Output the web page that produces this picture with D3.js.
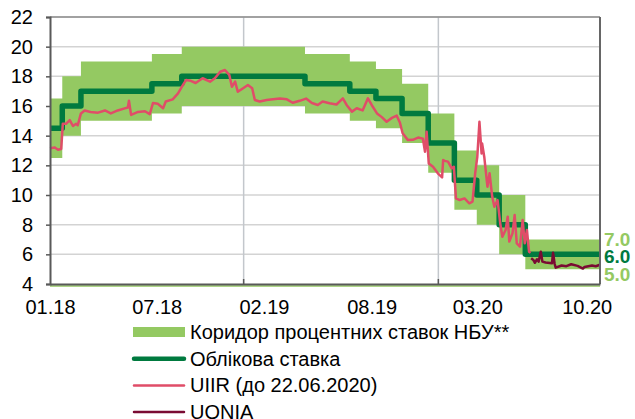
<!DOCTYPE html>
<html>
<head>
<meta charset="utf-8">
<script src="https://cdn.jsdelivr.net/npm/d3@7"></script>
<style>
  body { margin: 0; background: #fff; }
  svg { display: block; font-family: "Liberation Sans", Arial, sans-serif; }
</style>
</head>
<body>
<div class="chartDiv"></div>
<script>
// NBU key rate, corridor and interbank rates, 01.2018 - 10.2020

// key rate steps (date the rate took effect)
var keyDates = ["2018-01-03", "2018-01-26", "2018-03-02", "2018-07-13", "2018-09-07", "2019-04-26",
    "2019-07-19", "2019-09-06", "2019-10-25", "2019-12-13", "2020-01-31", "2020-03-13",
    "2020-04-24", "2020-06-12", "2020-10-30"];
var keyRates = [14.5, 16, 17, 17.5, 18, 17.5, 17, 16.5, 15.5, 13.5, 11, 10, 8, 6, 6];
// corridor bounds on the same dates
var corridorLow = [12.5, 14, 15, 15.5, 16, 15.5, 15, 14.5, 13.5, 11.5, 9, 8, 6, 5, 5];
var corridorHigh = [16.5, 18, 19, 19.5, 20, 19.5, 19, 18.5, 17.5, 15.5, 13, 12, 10, 7, 7];

// UIIR
var uiirDates = ["2018-01-03", "2018-01-12", "2018-01-18", "2018-01-24", "2018-01-27", "2018-02-02",
    "2018-02-09", "2018-02-15", "2018-02-21", "2018-02-24", "2018-03-02", "2018-03-09", "2018-03-20",
    "2018-04-03", "2018-04-16", "2018-04-27", "2018-05-10", "2018-05-23", "2018-05-29", "2018-05-31",
    "2018-06-04", "2018-06-17", "2018-06-30", "2018-07-09", "2018-07-15", "2018-07-24", "2018-08-03",
    "2018-08-08", "2018-08-21", "2018-08-31", "2018-09-09", "2018-09-15", "2018-09-24", "2018-10-03",
    "2018-10-16", "2018-10-30", "2018-11-08", "2018-11-18", "2018-11-27", "2018-12-05", "2018-12-10",
    "2018-12-16", "2018-12-21", "2018-12-31", "2019-01-09", "2019-01-17", "2019-01-22", "2019-01-31",
    "2019-02-13", "2019-02-25", "2019-03-10", "2019-03-23", "2019-04-03", "2019-04-16", "2019-04-28",
    "2019-05-09", "2019-05-20", "2019-05-29", "2019-06-11", "2019-06-24", "2019-07-06", "2019-07-13",
    "2019-07-23", "2019-08-01", "2019-08-12", "2019-08-22", "2019-08-29", "2019-09-08", "2019-09-17",
    "2019-09-26", "2019-10-06", "2019-10-15", "2019-10-21", "2019-10-26", "2019-11-05", "2019-11-14",
    "2019-11-24", "2019-12-03", "2019-12-07", "2019-12-10", "2019-12-14", "2019-12-22", "2019-12-31",
    "2020-01-08", "2020-01-10", "2020-01-13", "2020-01-19", "2020-01-26", "2020-01-30", "2020-02-03",
    "2020-02-10", "2020-02-19", "2020-02-28", "2020-03-05", "2020-03-10", "2020-03-14", "2020-03-18",
    "2020-03-22", "2020-03-23", "2020-03-27", "2020-03-31", "2020-04-02", "2020-04-06", "2020-04-11",
    "2020-04-15", "2020-04-21", "2020-04-26", "2020-04-30", "2020-05-06", "2020-05-10", "2020-05-13",
    "2020-05-19", "2020-05-23", "2020-05-27", "2020-06-02", "2020-06-07", "2020-06-11", "2020-06-15",
    "2020-06-19", "2020-06-22"];
var uiirValues = [13.15, 13.2, 13.05, 13.1, 14.8, 14.8,
    15.05, 14.65, 14.8, 14.7, 15.5, 15.7, 15.6,
    15.55, 15.7, 15.5, 15.7, 15.84, 15.9, 16.36,
    15.4, 15.6, 15.65, 15.45, 16.2, 16.15, 15.85,
    16.3, 16.45, 16.85, 17.4, 17.75, 17.7, 17.55,
    17.87, 17.64, 17.87, 18.31, 18.43, 18.1, 17.3,
    17.64, 16.96, 17.2, 17.42, 17.2, 16.4, 16.3,
    16.4, 16.45, 16.5, 16.45, 16.22, 16.35, 16.5,
    16.2, 16.07, 16.3, 16.18, 16.1, 16.52, 16.07,
    15.62, 15.85, 15.7, 16.52, 16.07, 15.5, 15.25,
    14.94, 15.2, 15.35, 14.87, 14.16, 13.7, 13.72,
    13.87, 13.8, 12.92, 14.27, 12.13, 11.9, 11.46,
    11.19, 12.36, 12.3, 12.25, 11.8, 11.9, 9.77,
    9.66, 9.77, 9.44, 9.55, 11.46, 12.58, 14.94,
    12.8, 13.48, 12.58, 11.24, 10.56, 11.46, 9.88,
    9.21, 9.66, 8.09, 7.19, 7.64, 8.54, 6.86,
    7.41, 8.65, 6.74, 6.52, 8.31, 6.74, 7.64,
    6.18, 6.1];

// UONIA
var uoniaDates = ["2020-06-23", "2020-06-27", "2020-06-30", "2020-07-04", "2020-07-07", "2020-07-11",
    "2020-07-14", "2020-07-20", "2020-07-24", "2020-08-01", "2020-08-03", "2020-08-06", "2020-08-08",
    "2020-08-19", "2020-08-28", "2020-09-06", "2020-09-18", "2020-09-28", "2020-10-01", "2020-10-15",
    "2020-10-22", "2020-10-30"];
var uoniaValues = [5.73, 5.62, 5.43, 5.67, 5.51, 6.18,
    5.51, 5.45, 5.44, 5.4, 6.1, 5.35, 5.1,
    5.25, 5.2, 5.33, 5.22, 5.04, 5.15, 5.25,
    5.2, 5.3];

// axis ticks
var yTicks = [4, 6, 8, 10, 12, 14, 16, 18, 20, 22];
var xTickDates = ["2018-01-03", "2018-07-22", "2019-02-08", "2019-08-29", "2020-03-14", "2020-10-05"];
var xTickLabels = ["01.18", "07.18", "02.19", "08.19", "03.20", "10.20"];
var yearLines = ["2019-01-01", "2020-01-01"];

// end-of-series labels
var endValues = [7.0, 6.0, 5.0];

var legendNames = ["Коридор процентних ставок НБУ**", "Облікова ставка", "UIIR (до 22.06.2020)", "UONIA"];

var colCorridor = "#94c962", colKey = "#007a3f", colUiir = "#e04d68", colUonia = "#7a0b33";

var W = 635, H = 419;
var margin = {top: 17, right: 35, bottom: 135, left: 50},
    width = W - margin.left - margin.right,
    height = H - margin.top - margin.bottom;

var parse = d3.timeParse("%Y-%m-%d");

var svg = d3.select('div.chartDiv').append('svg').
    attr('width', W).attr('height', H);
var g = svg.append('g').attr('transform', 'translate(' + margin.left + ',' + margin.top + ')');

var xScale = d3.scaleTime().domain([parse("2018-01-03"), parse("2020-10-30")]).range([0, width]);
var yScale = d3.scaleLinear().domain([4, 22]).range([height, 0]);

// horizontal grid
g.selectAll('line.hgrid').data(yTicks.slice(1)).enter().append('line').
    attr('class', 'hgrid').
    attr('x1', 0).attr('x2', width).
    attr('y1', function(d) { return yScale(d); }).attr('y2', function(d) { return yScale(d); }).
    attr('stroke', '#d3d3d3').attr('stroke-width', 1.5);

// vertical grid at year starts
g.selectAll('line.vgrid').data(yearLines).enter().append('line').
    attr('class', 'vgrid').
    attr('x1', function(d) { return xScale(parse(d)); }).attr('x2', function(d) { return xScale(parse(d)); }).
    attr('y1', 0).attr('y2', height).
    attr('stroke', '#c3c7cc').attr('stroke-width', 1.5);

// corridor as a stepped band
var corridor = keyDates.map(function(d, i) { return {date: parse(d), lo: corridorLow[i], hi: corridorHigh[i]}; });
g.append('path').datum(corridor).
    attr('fill', colCorridor).
    attr('d', d3.area().curve(d3.curveStepAfter).
        x(function(d) { return xScale(d.date); }).
        y0(function(d) { return yScale(d.lo); }).
        y1(function(d) { return yScale(d.hi); }));

// UIIR and UONIA
var uiir = uiirDates.map(function(d, i) { return {date: parse(d), v: uiirValues[i]}; });
var uonia = uoniaDates.map(function(d, i) { return {date: parse(d), v: uoniaValues[i]}; });
var line = d3.line().x(function(d) { return xScale(d.date); }).y(function(d) { return yScale(d.v); });

// key rate
var key = keyDates.map(function(d, i) { return {date: parse(d), v: keyRates[i]}; });
g.append('path').datum(key).
    attr('fill', 'none').attr('stroke', colKey).attr('stroke-width', 5.5).
    attr('stroke-linejoin', 'round').
    attr('d', d3.line().curve(d3.curveStepAfter).
        x(function(d) { return xScale(d.date); }).y(function(d) { return yScale(d.v); }));

g.append('path').datum(uiir).
    attr('fill', 'none').attr('stroke', colUiir).attr('stroke-width', 2.5).
    attr('stroke-linejoin', 'round').attr('d', line);

g.append('path').datum(uonia).
    attr('fill', 'none').attr('stroke', colUonia).attr('stroke-width', 2.5).
    attr('stroke-linejoin', 'round').attr('d', line);

// frame
g.append('line').attr('x1', 0).attr('x2', width).attr('y1', 0).attr('y2', 0).
    attr('stroke', '#8c8c8c').attr('stroke-width', 1.5);
g.append('line').attr('x1', width).attr('x2', width).attr('y1', 0).attr('y2', height).
    attr('stroke', '#666').attr('stroke-width', 2);
g.append('line').attr('x1', 0).attr('x2', width).attr('y1', height + 2).attr('y2', height + 2).
    attr('stroke', colCorridor).attr('stroke-width', 1.5);

// y axis
var yAxis = d3.axisLeft(yScale).tickValues(yTicks).tickSize(4).tickPadding(13);
var yG = g.append('g').call(yAxis);
yG.select('.domain').attr('stroke', '#595959').attr('stroke-width', 2);
yG.selectAll('.tick line').attr('stroke', '#595959').attr('stroke-width', 1.5);
yG.selectAll('text').attr('font-size', 20).attr('fill', '#000').attr('font-family', null);

// x axis: labels, plus inner tick marks at year starts
var xAxis = d3.axisBottom(xScale).tickValues(xTickDates.map(parse)).tickSize(0).tickPadding(16).
    tickFormat(function(d, i) { return xTickLabels[i]; });
var xG = g.append('g').attr('transform', 'translate(0,' + height + ')').call(xAxis);
xG.select('.domain').attr('stroke', '#595959').attr('stroke-width', 2);
xG.selectAll('text').attr('font-size', 20).attr('fill', '#000').attr('font-family', null);
g.selectAll('line.yeartick').data(yearLines).enter().append('line').
    attr('x1', function(d) { return xScale(parse(d)); }).attr('x2', function(d) { return xScale(parse(d)); }).
    attr('y1', height - 5).attr('y2', height).
    attr('stroke', '#595959').attr('stroke-width', 1.5);

// end labels
var endColors = [colCorridor, colKey, colCorridor];
var endShift = [0, 2, 5];
g.selectAll('text.endlab').data(endValues).enter().append('text').
    attr('x', width + 4).
    attr('y', function(d, i) { return yScale(d) + endShift[i]; }).
    attr('dy', '0.35em').
    attr('font-size', 19).attr('font-weight', 'bold').
    attr('fill', function(d, i) { return endColors[i]; }).
    text(function(d) { return d.toFixed(1); });

// legend
var lg = svg.append('g').attr('transform', 'translate(133,332)');
var rows = lg.selectAll('g').data(legendNames).enter().append('g').
    attr('transform', function(d, i) { return 'translate(0,' + (i * 26.7) + ')'; });
rows.filter(function(d, i) { return i === 0; }).append('rect').
    attr('x', 0).attr('y', -5).attr('width', 52).attr('height', 10).attr('fill', colCorridor);
var legendStroke = [null, colKey, colUiir, colUonia], legendWidth = [0, 4.5, 2.5, 2.5];
rows.filter(function(d, i) { return i > 0; }).append('line').
    attr('x1', 1).attr('x2', 51).attr('y1', 0).attr('y2', 0).
    attr('stroke', function(d) { return legendStroke[legendNames.indexOf(d)]; }).
    attr('stroke-width', function(d) { return legendWidth[legendNames.indexOf(d)]; }).
    attr('stroke-linecap', 'round');
rows.append('text').attr('x', 57).attr('dy', '0.35em').attr('font-size', 20).
    attr('fill', '#000').text(function(d) { return d; });
</script>
</body>
</html>
